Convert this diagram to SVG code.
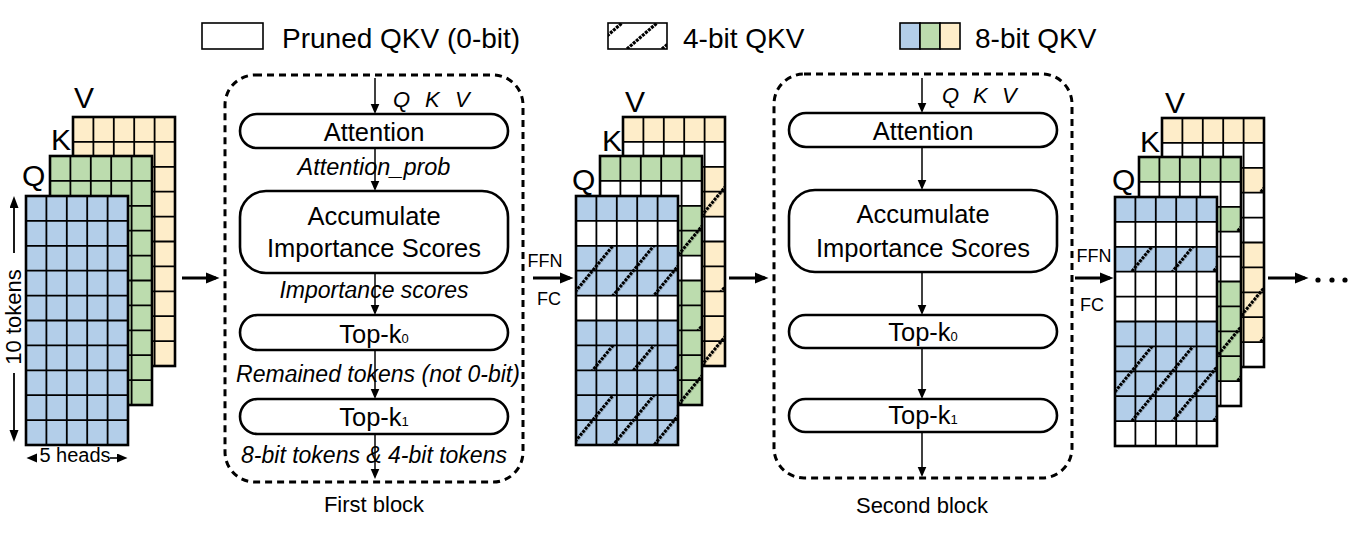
<svg xmlns="http://www.w3.org/2000/svg" xmlns:xlink="http://www.w3.org/1999/xlink" width="1359" height="540" viewBox="0 0 1359 540">
<style>
.t{font-family:"Liberation Sans",Arial,sans-serif;fill:#000}
.it{font-style:italic}
.box{fill:#fff;stroke:#000;stroke-width:2.6}
.frame{fill:none;stroke:#000;stroke-width:3;stroke-dasharray:7 5}
.thick{stroke:#000;stroke-width:2.8;fill:none}
.thin{stroke:#000;stroke-width:1.5;fill:none}
.lg{stroke:#000;stroke-width:1.6}
</style>
<defs>
<marker id="ahB" markerUnits="userSpaceOnUse" markerWidth="14" markerHeight="12" refX="10" refY="6" orient="auto"><path d="M0,0.5 L13.5,6 L0,11.5 z" fill="#000"/></marker>
<marker id="ahS" markerUnits="userSpaceOnUse" markerWidth="11" markerHeight="10" refX="8" refY="4.5" orient="auto"><path d="M0,0 L10.5,4.5 L0,9 z" fill="#000"/></marker>
<marker id="ahT" markerUnits="userSpaceOnUse" markerWidth="13" markerHeight="10" refX="9" refY="4.5" orient="auto"><path d="M0,0 L12,4.5 L0,9 z" fill="#000"/></marker>
<pattern id="hatch" patternUnits="userSpaceOnUse" width="31.6" height="40" patternTransform="translate(-6,0) rotate(39.3)">
<line x1="1.6" y1="0" x2="1.6" y2="40" stroke="#000" stroke-width="3.2" stroke-dasharray="3 1"/>
</pattern>
<clipPath id="lgclip"><rect x="608" y="23" width="59" height="26"/></clipPath>
<g id="grid">
<path d="M20.4 0V249M40.8 0V249M61.2 0V249M81.6 0V249M0 24.9H102M0 49.8H102M0 74.7H102M0 99.6H102M0 124.5H102M0 149.4H102M0 174.3H102M0 199.2H102M0 224.1H102" stroke="#000" stroke-width="1.8" fill="none"/>
<rect x="0" y="0" width="102" height="249" fill="none" stroke="#000" stroke-width="2.6"/>
</g>
<g id="rows-mid">
<rect y="24.9" width="102" height="24.9" fill="#fff"/>
<rect y="99.6" width="102" height="24.9" fill="#fff"/>
<rect y="49.8" width="102" height="49.8" fill="url(#hatch)"/>
<rect y="149.4" width="102" height="24.9" fill="url(#hatch)"/>
<rect y="199.2" width="102" height="49.8" fill="url(#hatch)"/>
</g>
<g id="rows-out">
<rect y="24.9" width="102" height="24.9" fill="#fff"/>
<rect y="74.7" width="102" height="49.8" fill="#fff"/>
<rect y="224.1" width="102" height="24.9" fill="#fff"/>
<rect y="49.8" width="102" height="24.9" fill="url(#hatch)"/>
<rect y="149.4" width="102" height="74.7" fill="url(#hatch)"/>
</g>
</defs>

<rect width="1359" height="540" fill="#fff"/>

<!-- Legend -->
<g id="legend">
<g id="legend-pruned">
<rect x="202" y="23" width="61" height="26" fill="#fff" class="lg"/>
<text class="t" x="282" y="48" font-size="28">Pruned QKV (0-bit)</text>
</g>
<g id="legend-4bit">
<rect x="608" y="23" width="59" height="26" fill="#fff"/>
<g clip-path="url(#lgclip)" stroke="#000" stroke-width="3.2" stroke-dasharray="3 1">
<line x1="627" y1="49" x2="657" y2="23"/>
<line x1="592" y1="49" x2="622" y2="23"/>
<line x1="662" y1="49" x2="692" y2="23"/>
</g>
<rect x="608" y="23" width="59" height="26" fill="none" class="lg"/>
<text class="t" x="683" y="48" font-size="28">4-bit QKV</text>
</g>
<g id="legend-8bit">
<rect x="900" y="23" width="20" height="26" fill="#B3CEE9" class="lg"/>
<rect x="920" y="23" width="20" height="26" fill="#BCDCAE" class="lg"/>
<rect x="940" y="23" width="20" height="26" fill="#FEEDC9" class="lg"/>
<text class="t" x="975" y="48" font-size="28">8-bit QKV</text>
</g>
</g>

<!-- Input stack -->
<g id="stack-input" transform="translate(26,196)">
<g id="input-V" transform="translate(47,-79)"><rect width="102" height="249" fill="#FEEDC9"/><use xlink:href="#grid" href="#grid"/></g>
<g id="input-K" transform="translate(24,-40)"><rect width="102" height="249" fill="#BCDCAE"/><use xlink:href="#grid" href="#grid"/></g>
<g id="input-Q"><rect width="102" height="249" fill="#B3CEE9"/><use xlink:href="#grid" href="#grid"/></g>
<text class="t" x="-4" y="-10" font-size="30">Q</text>
<text class="t" x="25" y="-46" font-size="30">K</text>
<text class="t" x="48" y="-88" font-size="30">V</text>
</g>
<g id="input-dims">
<text class="t" font-size="22" text-anchor="middle" transform="translate(21,317) rotate(-90)">10 tokens</text>
<text class="t" x="75" y="462" font-size="20" text-anchor="middle">5 heads</text>
</g>

<!-- Middle stack -->
<g id="stack-mid" transform="translate(576,196)">
<g id="mid-V" transform="translate(47,-79)"><rect width="102" height="249" fill="#FEEDC9"/><use xlink:href="#rows-mid" href="#rows-mid"/><use xlink:href="#grid" href="#grid"/></g>
<g id="mid-K" transform="translate(24,-40)"><rect width="102" height="249" fill="#BCDCAE"/><use xlink:href="#rows-mid" href="#rows-mid"/><use xlink:href="#grid" href="#grid"/></g>
<g id="mid-Q"><rect width="102" height="249" fill="#B3CEE9"/><use xlink:href="#rows-mid" href="#rows-mid"/><use xlink:href="#grid" href="#grid"/></g>
<text class="t" x="-4" y="-6" font-size="30">Q</text>
<text class="t" x="26" y="-45" font-size="30">K</text>
<text class="t" x="49" y="-84" font-size="30">V</text>
</g>

<!-- Output stack -->
<g id="stack-out" transform="translate(1115,197)">
<g id="out-V" transform="translate(47,-79)"><rect width="102" height="249" fill="#FEEDC9"/><use xlink:href="#rows-out" href="#rows-out"/><use xlink:href="#grid" href="#grid"/></g>
<g id="out-K" transform="translate(24,-40)"><rect width="102" height="249" fill="#BCDCAE"/><use xlink:href="#rows-out" href="#rows-out"/><use xlink:href="#grid" href="#grid"/></g>
<g id="out-Q"><rect width="102" height="249" fill="#B3CEE9"/><use xlink:href="#rows-out" href="#rows-out"/><use xlink:href="#grid" href="#grid"/></g>
<text class="t" x="-3" y="-7" font-size="30">Q</text>
<text class="t" x="25" y="-45" font-size="30">K</text>
<text class="t" x="50" y="-84" font-size="30">V</text>
</g>

<!-- First block -->
<g id="block1">
<rect class="frame" x="225" y="75" width="298" height="407" rx="30"/>
<text class="t" x="374" y="512" font-size="22" text-anchor="middle">First block</text>
</g>
<g id="b1-attention">
<rect class="box" x="240" y="114" width="268" height="34" rx="17"/>
<text class="t" x="374" y="141" font-size="25.5" text-anchor="middle">Attention</text>
</g>
<g id="b1-accumulate">
<rect class="box" x="240" y="191" width="268" height="82" rx="26"/>
<text class="t" x="374" y="225" font-size="25.5" text-anchor="middle">Accumulate</text>
<text class="t" x="374" y="257" font-size="25.5" text-anchor="middle">Importance Scores</text>
</g>
<g id="b1-topk0">
<rect class="box" x="240" y="315" width="268" height="35" rx="17.5"/>
<text class="t" x="374" y="343" font-size="25.5" text-anchor="middle">Top-k<tspan font-size="13">0</tspan></text>
</g>
<g id="b1-topk1">
<rect class="box" x="240" y="399" width="268" height="35" rx="17.5"/>
<text class="t" x="374" y="426" font-size="25.5" text-anchor="middle">Top-k<tspan font-size="13">1</tspan></text>
</g>

<!-- Second block -->
<g id="block2">
<rect class="frame" x="774" y="74" width="298" height="404" rx="30"/>
<text class="t" x="922" y="513" font-size="22" text-anchor="middle">Second block</text>
</g>
<g id="b2-attention">
<rect class="box" x="789" y="113" width="268" height="34" rx="17"/>
<text class="t" x="923" y="140" font-size="25.5" text-anchor="middle">Attention</text>
</g>
<g id="b2-accumulate">
<rect class="box" x="789" y="190" width="268" height="82" rx="26"/>
<text class="t" x="923" y="223" font-size="25.5" text-anchor="middle">Accumulate</text>
<text class="t" x="923" y="257" font-size="25.5" text-anchor="middle">Importance Scores</text>
</g>
<g id="b2-topk0">
<rect class="box" x="789" y="315" width="268" height="33" rx="16.5"/>
<text class="t" x="923" y="341" font-size="25.5" text-anchor="middle">Top-k<tspan font-size="13">0</tspan></text>
</g>
<g id="b2-topk1">
<rect class="box" x="789" y="399" width="268" height="33" rx="16.5"/>
<text class="t" x="923" y="424" font-size="25.5" text-anchor="middle">Top-k<tspan font-size="13">1</tspan></text>
</g>

<!-- Connectors -->
<g id="connectors">
<line class="thick" x1="182" y1="278" x2="216" y2="278" marker-end="url(#ahB)"/>
<line class="thick" x1="533" y1="278" x2="570" y2="278" marker-end="url(#ahB)"/>
<line class="thick" x1="729" y1="278" x2="765" y2="278" marker-end="url(#ahB)"/>
<line class="thick" x1="1075" y1="278" x2="1110" y2="278" marker-end="url(#ahB)"/>
<line class="thick" x1="1268" y1="278" x2="1305" y2="278" marker-end="url(#ahB)"/>
<line class="thin" x1="375" y1="78" x2="375" y2="111.5" marker-end="url(#ahS)"/>
<line class="thin" x1="375" y1="148" x2="375" y2="188.5" marker-end="url(#ahS)"/>
<line class="thin" x1="375" y1="273" x2="375" y2="312.5" marker-end="url(#ahS)"/>
<line class="thin" x1="375" y1="350" x2="375" y2="396.5" marker-end="url(#ahS)"/>
<line class="thin" x1="375" y1="434" x2="375" y2="476.5" marker-end="url(#ahS)"/>
<line class="thin" x1="922" y1="78" x2="922" y2="110.5" marker-end="url(#ahS)"/>
<line class="thin" x1="922" y1="147" x2="922" y2="187.5" marker-end="url(#ahS)"/>
<line class="thin" x1="922" y1="272" x2="922" y2="312.5" marker-end="url(#ahS)"/>
<line class="thin" x1="922" y1="348" x2="922" y2="396.5" marker-end="url(#ahS)"/>
<line class="thin" x1="922" y1="432" x2="922" y2="474.5" marker-end="url(#ahS)"/>
<line stroke="#000" stroke-width="1.8" x1="14" y1="253" x2="14" y2="199" marker-end="url(#ahT)"/>
<line stroke="#000" stroke-width="1.8" x1="14" y1="373" x2="14" y2="439" marker-end="url(#ahT)"/>
<line stroke="#000" stroke-width="1.6" x1="37" y1="458" x2="29" y2="458" marker-end="url(#ahS)"/>
<line stroke="#000" stroke-width="1.6" x1="110" y1="458" x2="125" y2="458" marker-end="url(#ahS)"/>
<circle cx="1318" cy="280" r="2.6" fill="#000"/>
<circle cx="1332" cy="280" r="2.6" fill="#000"/>
<circle cx="1345" cy="280" r="2.6" fill="#000"/>
</g>

<!-- Connector labels -->
<g id="labels">
<text class="t it" x="393" y="107" font-size="22">Q</text>
<text class="t it" x="425" y="107" font-size="22">K</text>
<text class="t it" x="455" y="107" font-size="22">V</text>
<text class="t it" x="942" y="103" font-size="22">Q</text>
<text class="t it" x="973" y="103" font-size="22">K</text>
<text class="t it" x="1002" y="103" font-size="22">V</text>
<text class="t it" x="374" y="175" font-size="23.5" text-anchor="middle">Attention_prob</text>
<text class="t it" x="374" y="298" font-size="23" text-anchor="middle">Importance scores</text>
<text class="t it" x="378" y="382" font-size="23" text-anchor="middle">Remained tokens (not 0-bit)</text>
<text class="t it" x="374" y="463" font-size="23" text-anchor="middle">8-bit tokens &amp; 4-bit tokens</text>
<text class="t" x="545" y="267" font-size="18" text-anchor="middle">FFN</text>
<text class="t" x="549" y="305" font-size="18" text-anchor="middle">FC</text>
<text class="t" x="1094" y="262" font-size="18" text-anchor="middle">FFN</text>
<text class="t" x="1092" y="311" font-size="18" text-anchor="middle">FC</text>
</g>
</svg>
